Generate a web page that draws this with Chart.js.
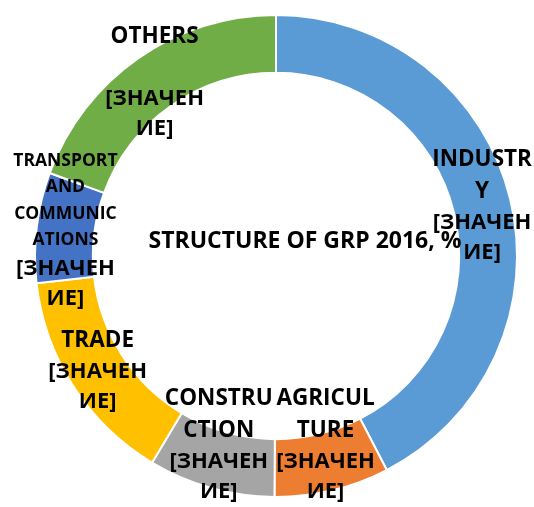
<!DOCTYPE html>
<html>
<head>
<meta charset="utf-8">
<script src="https://cdn.jsdelivr.net/npm/chart.js@4"></script>
<style>
    html, body { margin: 0; padding: 0; background: #ffffff; }
    #wrap { width: 534px; height: 507px; }
</style>
</head>
<body>
<div id="wrap"><canvas id="grpChart"></canvas></div>
<script>
// Chart data
const categories = ['INDUSTRY', 'AGRICULTURE', 'CONSTRUCTION', 'TRADE', 'TRANSPORT AND COMMUNICATIONS', 'OTHERS'];
const shares = [42.4, 7.7, 8.5, 14.6, 7.4, 19.4];
const colors = ['#5B9BD5', '#ED7D31', '#A5A5A5', '#FFC000', '#4472C4', '#70AD47'];

// Label text, wrapped the way the original data labels wrap
const nameLines = [
    ['INDUSTR', 'Y'],
    ['AGRICUL', 'TURE'],
    ['CONSTRU', 'CTION'],
    ['TRADE'],
    ['TRANSPORT', 'AND', 'COMMUNIC', 'ATIONS'],
    ['OTHERS', '']
];
const valueLines = ['[ЗНАЧЕН', 'ИЕ]'];
const chartTitle = 'STRUCTURE OF GRP 2016, %';

const FONT = '"Open Sans", "Noto Sans", sans-serif';

// Draw data labels and the centre title
const labelPlugin = {
    id: 'labelPlugin',
    afterDatasetsDraw(chart) {
        const ctx = chart.ctx;
        const meta = chart.getDatasetMeta(0);
        ctx.save();
        ctx.fillStyle = '#000000';
        ctx.textAlign = 'center';
        ctx.textBaseline = 'middle';

        meta.data.forEach((arc, i) => {
            const pos = arc.tooltipPosition();
            const small = nameLines[i].length > 2;
            const lines = [];
            nameLines[i].forEach(t => lines.push({ text: t, size: small ? 17.5 : 22.5, lh: small ? 26.5 : 32 }));
            valueLines.forEach(t => lines.push({ text: t, size: 22, lh: 30 }));

            let total = 0;
            lines.forEach(l => total += l.lh);
            let top = pos.y - total / 2;
            // keep the block inside the canvas
            if (top + total > chart.height) top = chart.height - total;

            lines.forEach(l => {
                ctx.font = 'bold ' + l.size + 'px ' + FONT;
                ctx.fillText(l.text, pos.x, top + l.lh / 2);
                top += l.lh;
            });
        });

        // Title sits in the hole, slightly right of centre
        ctx.font = 'bold 23px ' + FONT;
        ctx.fillText(chartTitle, meta.data[0].x + 29, meta.data[0].y - 15);
        ctx.restore();
    }
};

const ctx = document.getElementById('grpChart').getContext('2d');

new Chart(ctx, {
    type: 'doughnut',
    data: {
        labels: categories,
        datasets: [{
            data: shares,
            backgroundColor: colors,
            borderColor: '#ffffff',
            borderWidth: 2
        }]
    },
    options: {
        responsive: true,
        maintainAspectRatio: false,
        animation: false,
        cutout: '76%',
        layout: {
            padding: { top: 14, bottom: 9, left: 34, right: 16 }
        },
        plugins: {
            legend: { display: false },
            tooltip: { enabled: false },
            title: { display: false }
        }
    },
    plugins: [labelPlugin]
});
</script>
</body>
</html>
